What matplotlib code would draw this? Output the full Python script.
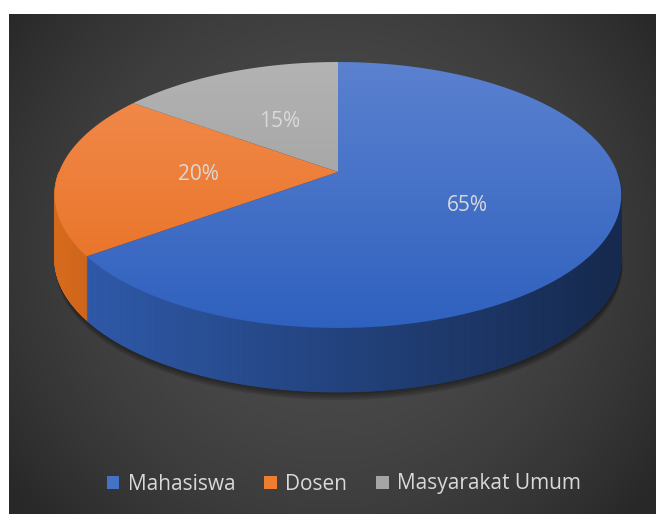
import numpy as np
import matplotlib.pyplot as plt
from matplotlib.patches import Polygon, Patch
from matplotlib.collections import PolyCollection

# data
labels = ['Mahasiswa', 'Dosen', 'Masyarakat Umum']
values = [65, 20, 15]
colors = ['#4472c4', '#ed7d31', '#a5a5a5']

# top face gradient (top colour, bottom colour) and side base colour
top_grad = [((92, 130, 208), (46, 96, 190)),
            ((243, 142, 82), (230, 108, 28)),
            ((180, 180, 180), (150, 150, 150))]
side_base = [(48, 92, 174), (214, 106, 28), (150, 150, 150)]

W, H = 656, 514
fig = plt.figure(figsize=(W / 100, H / 100), dpi=100)
ax = fig.add_axes([0, 0, 1, 1])

# dark radial background
bx0, by0 = 9, 14
yy, xx = np.mgrid[by0:H, bx0:W]
r = np.hypot(xx - 330, yy - 250)
g = (40 + 36 * np.clip(1 - (r / 400) ** 2, 0, 1)) / 255
ax.imshow(np.dstack([g, g, g]), extent=[bx0, W, H, by0], aspect='auto',
          interpolation='bilinear', zorder=0)

# 3d pie geometry (perspective projection of a disc)
cx, cy = 338, 172
A, B, p = 279, 129, 0.173
depth = 64


def proj(t, rr=1.0):
    x = rr * np.cos(t)
    y = rr * np.sin(t)
    w = 1 + p * y
    return cx + A * x / w, cy - B * y / w


fr = np.array(values) / sum(values)
ends = 90 - 360 * np.cumsum(fr)
starts = ends + 360 * fr

# soft shadow under the pie
tt = np.radians(np.linspace(0, 360, 400))
sx, sy = proj(tt)
for k in [8, 6, 4, 2]:
    ax.add_patch(Polygon(np.column_stack([sx + 1, sy + depth + k]), closed=True,
                         facecolor='black', edgecolor='none', alpha=0.13, zorder=1))

# side walls (front half only)
for i, (s, e) in enumerate(zip(starts, ends)):
    t = np.radians(np.linspace(e, s, int((s - e) * 2) + 2))
    quads, cols = [], []
    for t0, t1 in zip(t[:-1], t[1:]):
        if np.sin((t0 + t1) / 2) >= 0:
            continue
        x0, y0 = proj(t0)
        x1, y1 = proj(t1)
        quads.append([(x0, y0), (x1, y1), (x1, y1 + depth), (x0, y0 + depth)])
        f = 1 - 0.55 * np.clip(((x0 + x1) / 2 - 58) / (620 - 58), 0, 1)
        cols.append(tuple(np.array(side_base[i]) / 255 * f))
    if quads:
        ax.add_collection(PolyCollection(quads, facecolors=cols, edgecolors=cols,
                                         linewidths=0.6, zorder=2))

# top faces with vertical gradient
ramp = np.linspace(0, 1, 256)[:, None, None]
for i, (s, e) in enumerate(zip(starts, ends)):
    t = np.radians(np.linspace(s, e, 300))
    px, py = proj(t)
    poly = Polygon(np.column_stack([np.r_[cx, px], np.r_[cy, py]]), closed=True,
                   facecolor='none', edgecolor='none', zorder=3)
    ax.add_patch(poly)
    c0 = np.array(top_grad[i][0]) / 255
    c1 = np.array(top_grad[i][1]) / 255
    img = (1 - ramp) * c0 + ramp * c1
    im = ax.imshow(img, extent=[50, 630, 335, 55], aspect='auto',
                   interpolation='bilinear', zorder=3)
    im.set_clip_path(poly)

    # percent label
    mid = np.radians((s + e) / 2)
    lx, ly = proj(mid, 0.5)
    ax.text(lx, ly + 3, f'{values[i]}%', ha='center', va='center', color='#d9d9d9',
            fontsize=15, family='Open Sans', zorder=4)

# legend
handles = [Patch(facecolor=c, edgecolor='none') for c in colors]
leg = ax.legend(handles, labels, loc='center', bbox_to_anchor=(344 / W, 1 - 484 / H),
                bbox_transform=fig.transFigure, ncol=3, frameon=False,
                prop={'family': 'Open Sans', 'size': 15}, labelcolor='#d9d9d9',
                handlelength=0.6, handleheight=0.6, handletextpad=0.4,
                columnspacing=1.4, borderaxespad=0)

ax.set_xlim(0, W)
ax.set_ylim(H, 0)
ax.axis('off')

fig.savefig('out.png', dpi=100, facecolor='white')
